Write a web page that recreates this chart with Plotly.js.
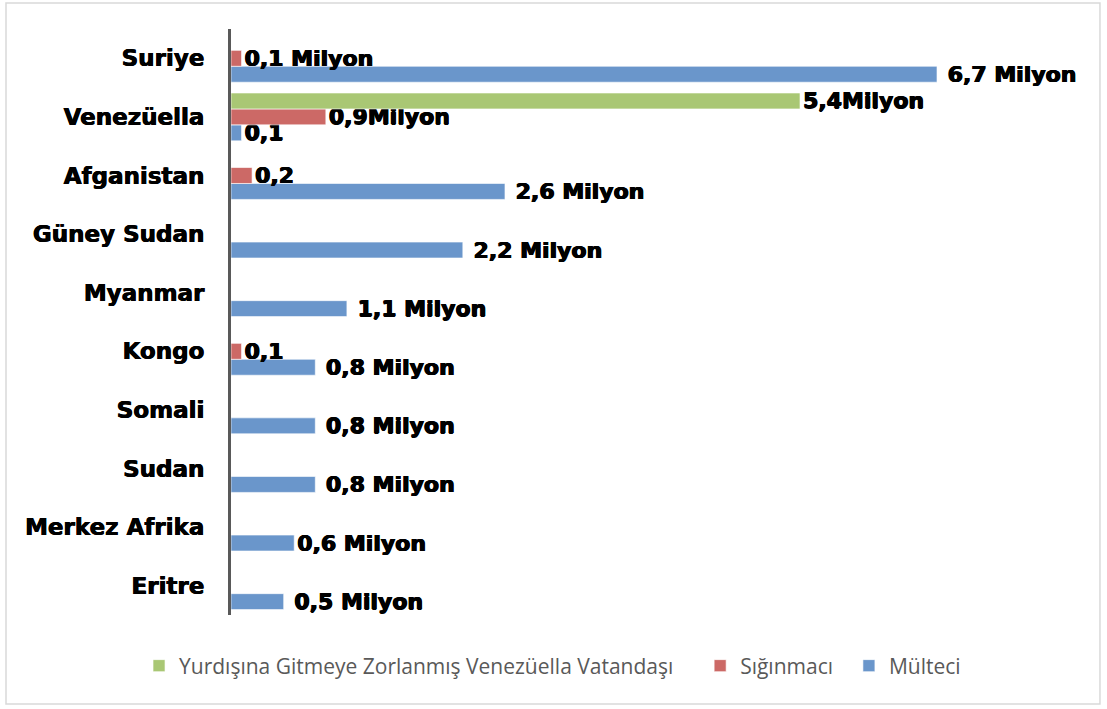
<!DOCTYPE html>
<html>
<head>
<meta charset="utf-8">
<script src="https://cdn.plot.ly/plotly-3.0.1.min.js"></script>
<style>html,body{margin:0;padding:0;background:#fff;}#chart{width:1107px;height:709px;}</style>
</head>
<body>
<div id="chart"></div>
<script>
const categories = ["Suriye","Venezüella","Afganistan","Güney Sudan","Myanmar","Kongo","Somali","Sudan","Merkez Afrika","Eritre"];
const seriesNames = ["Yurdışına Gitmeye Zorlanmış Venezüella Vatandaşı","Sığınmacı","Mülteci"];
const forcedValues = [null, 5.4, null, null, null, null, null, null, null, null];
const asylumValues = [0.1, 0.9, 0.2, null, null, 0.1, null, null, null, null];
const refugeeValues = [6.7, 0.1, 2.6, 2.2, 1.1, 0.8, 0.8, 0.8, 0.6, 0.5];
const forcedLabels = ["", "5,4Milyon", "", "", "", "", "", "", "", ""];
const asylumLabels = ["0,1 Milyon", "0,9Milyon", "0,2", "", "", "0,1", "", "", "", ""];
const refugeeLabels = ["\u00a06,7 Milyon", "0,1", "\u00a02,6 Milyon", "\u00a02,2 Milyon", "\u00a01,1 Milyon", "\u00a00,8 Milyon", "\u00a00,8 Milyon", "\u00a00,8 Milyon", "0,6 Milyon", "\u00a00,5 Milyon"];
const colors = ["#A9C774", "#CC6966", "#6A96CB"];

const heavy = "0.6px 0 0 #000, -0.6px 0 0 #000, 0 0.4px 0 #000";
const labelFont = {family: "DejaVu Sans", size: 22, color: "#000000", weight: "bold", shadow: heavy};
const NB = "\u00a0";
function mk(vals, labels, name, color, offset, rank) {
  return {
    type: "bar", orientation: "h", name: name, legendrank: rank,
    x: vals, y: categories, text: labels,
    width: 0.272, offset: offset,
    textposition: "outside", constraintext: "none", cliponaxis: false,
    textfont: labelFont,
    marker: {color: color, line: {color: "rgba(255,255,255,0.6)", width: 1}},
    hoverinfo: "skip"
  };
}
// draw order: refugee first so later labels sit on top of the bars below them
const data = [
  mk(refugeeValues, refugeeLabels, seriesNames[2], colors[2], 0.136, 3),
  mk(asylumValues, asylumLabels, seriesNames[1] + NB.repeat(2), colors[1], -0.136, 2),
  mk(forcedValues, forcedLabels, seriesNames[0] + NB.repeat(4), colors[0], -0.408, 1)
];
const layout = {
  width: 1107, height: 709,
  margin: {l: 231, r: 33, t: 29, b: 94},
  paper_bgcolor: "#ffffff", plot_bgcolor: "#ffffff",
  barmode: "overlay",
  showlegend: true,
  xaxis: {range: [0, 8], visible: false, fixedrange: true},
  yaxis: {
    type: "category", autorange: "reversed",
    showline: true, linecolor: "#595959", linewidth: 3,
    showgrid: false, zeroline: false, ticks: "",
    ticklabelstandoff: 19,
    tickfont: {family: "DejaVu Sans", size: 23, color: "#000000", weight: "bold", shadow: "0.4px 0 0 #000, -0.4px 0 0 #000"}
  },
  legend: {
    orientation: "h", x: -0.1091, xanchor: "left", y: -0.087, yanchor: "middle",
    font: {family: "Open Sans", size: 21, color: "#595959"},
    traceorder: "normal"
  },
  shapes: [{
    type: "rect", xref: "paper", yref: "paper",
    x0: -0.2669, x1: 1.0308, y0: -0.1519, y1: 1.0444,
    line: {color: "#D9D9D9", width: 1.5}, fillcolor: "rgba(0,0,0,0)", layer: "below"
  }]
};
Plotly.newPlot("chart", data, layout, {displayModeBar: false, staticPlot: true});
</script>
</body>
</html>
